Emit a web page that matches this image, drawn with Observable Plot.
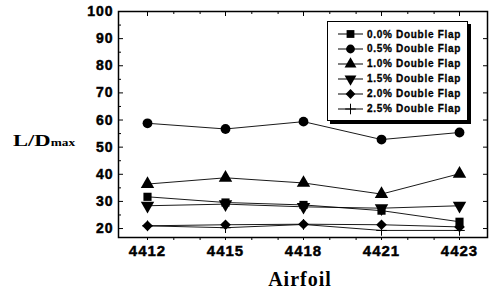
<!DOCTYPE html>
<html><head><meta charset="utf-8">
<script src="https://cdn.jsdelivr.net/npm/d3@7"></script>
<script src="https://cdn.jsdelivr.net/npm/@observablehq/plot@0.6"></script>
<style>
body{margin:0;background:#fff;}
#wrap{position:relative;width:491px;height:293px;overflow:hidden;background:#fff;}
#wrap svg text{font-weight:bold;fill:#000;stroke:#000;stroke-width:0.45px;}
#ytitle{position:absolute;left:13px;top:131px;font-family:"Liberation Serif","Times New Roman",serif;font-weight:bold;font-size:17px;transform:scaleX(1.33);transform-origin:left center;white-space:nowrap;color:#000;}
#ytitle span{font-size:10px;}
#xtitle{position:absolute;left:0;width:600px;top:268px;text-align:center;font-family:"Liberation Serif","Times New Roman",serif;font-weight:bold;font-size:20px;letter-spacing:1px;color:#000;}
#legend{position:absolute;left:327px;top:21px;width:139px;height:98px;border:1px solid #000;box-shadow:3px 3px 0 #000;background:#fff;}
.lrow{position:absolute;left:0;height:14px;display:flex;align-items:center;}
.lrow svg{display:block;}
.lrow .lt{font-family:"Liberation Sans",Arial,sans-serif;font-weight:bold;font-size:10px;letter-spacing:0.7px;margin-left:3px;white-space:nowrap;color:#000;-webkit-text-stroke:0.3px #000;}
</style></head>
<body><div id="wrap"></div>
<script>
const airfoils = ["4412", "4415", "4418", "4421", "4423"];
const flap00 = [31.7, 29.6, 28.7, 26.6, 22.5];
const flap05 = [58.8, 56.7, 59.4, 52.8, 55.4];
const flap10 = [36.4, 38.7, 36.8, 32.7, 40.2];
const flap15 = [28.4, 29.0, 28.0, 27.5, 28.4];
const flap20 = [21.0, 21.4, 21.6, 21.4, 20.6];
const flap25 = [21.0, 20.3, 21.5, 19.3, 19.3];
const seriesLabels = ["0.0% Double Flap", "0.5% Double Flap", "1.0% Double Flap", "1.5% Double Flap", "2.0% Double Flap", "2.5% Double Flap"];
const yTicks = [20, 30, 40, 50, 60, 70, 80, 90, 100];
const yMinorTicks = [25, 35, 45, 55, 65, 75, 85, 95];

const sqrt3 = Math.sqrt(3);
const triangleDown = {
  draw(context, size) {
    const y = Math.sqrt(size / (sqrt3 * 3));
    context.moveTo(0, y * 2);
    context.lineTo(-sqrt3 * y, -y);
    context.lineTo(sqrt3 * y, -y);
    context.closePath();
  }
};
const symbols = ["square", "circle", "triangle", triangleDown, "diamond2", "plus"];
const d3symbols = [d3.symbolSquare, d3.symbolCircle, d3.symbolTriangle, triangleDown, d3.symbolDiamond2, d3.symbolPlus];
const radii = [4.6, 4.9, 5.0, 5.0, 4.8, 3.5];
const allValues = [flap00, flap05, flap10, flap15, flap20, flap25];

const series = seriesLabels.map((label, k) => ({
  label, symbol: symbols[k],
  rows: airfoils.map((a, i) => ({airfoil: a, value: allValues[k][i], series: label}))
}));
const rows = series.flatMap(s => s.rows);

const W = 491, H = 293, ML = 118, MR = 4, MT = 11, MB = 56;
const fw = W - ML - MR;
const fh = H - MT - MB;

const dotMarks = series.map((s, k) => k === 5
  ? Plot.dot(s.rows, {x: "airfoil", y: "value", symbol: s.symbol, stroke: "black", strokeWidth: 1, r: radii[k]})
  : Plot.dot(s.rows, {x: "airfoil", y: "value", symbol: s.symbol, fill: "black", stroke: "none", r: radii[k]}));

const chart = Plot.plot({
  width: W, height: H,
  marginLeft: ML, marginRight: MR, marginTop: MT, marginBottom: MB,
  style: {fontFamily: "'Liberation Sans', Arial, sans-serif", background: "white", color: "black", overflow: "visible"},
  x: {type: "point", domain: airfoils, padding: 0.34, label: null},
  y: {domain: [16.7, 100], label: null},
  marks: [
    Plot.axisY(yTicks, {tickSize: 0, tickPadding: 5, fontSize: 14, fontWeight: "bold", label: null}),
    Plot.axisX(airfoils, {tickSize: 3, tickPadding: 5, fontSize: 15, fontWeight: "bold", label: null}),
    Plot.tickY(yTicks, {y: d => d, insetRight: fw - 5, stroke: "black", strokeWidth: 1}),
    Plot.tickY(yMinorTicks, {y: d => d, insetRight: fw - 3, stroke: "black", strokeWidth: 1}),
    Plot.tickY(yTicks, {y: d => d, insetLeft: fw - 4, stroke: "black", strokeWidth: 1}),
    Plot.tickX(airfoils, {x: d => d, insetBottom: fh - 5, stroke: "black", strokeWidth: 1}),
    Plot.tickX(airfoils.slice(0, 4), {x: d => d, dx: 26.3, insetBottom: fh - 3, stroke: "black"}),
    Plot.tickX(airfoils.slice(0, 4), {x: d => d, dx: 52.6, insetBottom: fh - 3, stroke: "black"}),
    Plot.tickX(airfoils.slice(0, 4), {x: d => d, dx: 26.3, insetTop: fh, insetBottom: -3, stroke: "black"}),
    Plot.tickX(airfoils.slice(0, 4), {x: d => d, dx: 52.6, insetTop: fh, insetBottom: -3, stroke: "black"}),
    Plot.line(rows, {x: "airfoil", y: "value", z: "series", stroke: "black", strokeWidth: 0.9}),
    ...dotMarks,
    Plot.frame({stroke: "black", strokeWidth: 1.5})
  ]
});
chart.style.letterSpacing = "1px";
const wrap = document.getElementById("wrap");
wrap.appendChild(chart);

const yt = document.createElement("div");
yt.id = "ytitle";
yt.innerHTML = "L/D<span>max</span>";
wrap.appendChild(yt);

const xt = document.createElement("div");
xt.id = "xtitle";
xt.textContent = "Airfoil";
wrap.appendChild(xt);

const lg = document.createElement("div");
lg.id = "legend";
seriesLabels.forEach((label, k) => {
  const row = document.createElement("div");
  row.className = "lrow";
  row.style.top = (5 + k * 14.9) + "px";
  const svg = d3.create("svg").attr("width", 36).attr("height", 14);
  svg.append("line").attr("x1", 10).attr("x2", 35).attr("y1", 7).attr("y2", 7).attr("stroke", "black").attr("stroke-width", 1);
  const size = Math.PI * (k === 5 ? 3.5 : 4.4) ** 2;
  const p = svg.append("path").attr("transform", "translate(22.5,7)").attr("d", d3.symbol(d3symbols[k], size)());
  if (k === 5) p.attr("fill", "none").attr("stroke", "black").attr("stroke-width", 1);
  else p.attr("fill", "black");
  row.appendChild(svg.node());
  const t = document.createElement("span");
  t.className = "lt";
  t.textContent = label;
  row.appendChild(t);
  lg.appendChild(row);
});
wrap.appendChild(lg);
</script>
</body></html>
